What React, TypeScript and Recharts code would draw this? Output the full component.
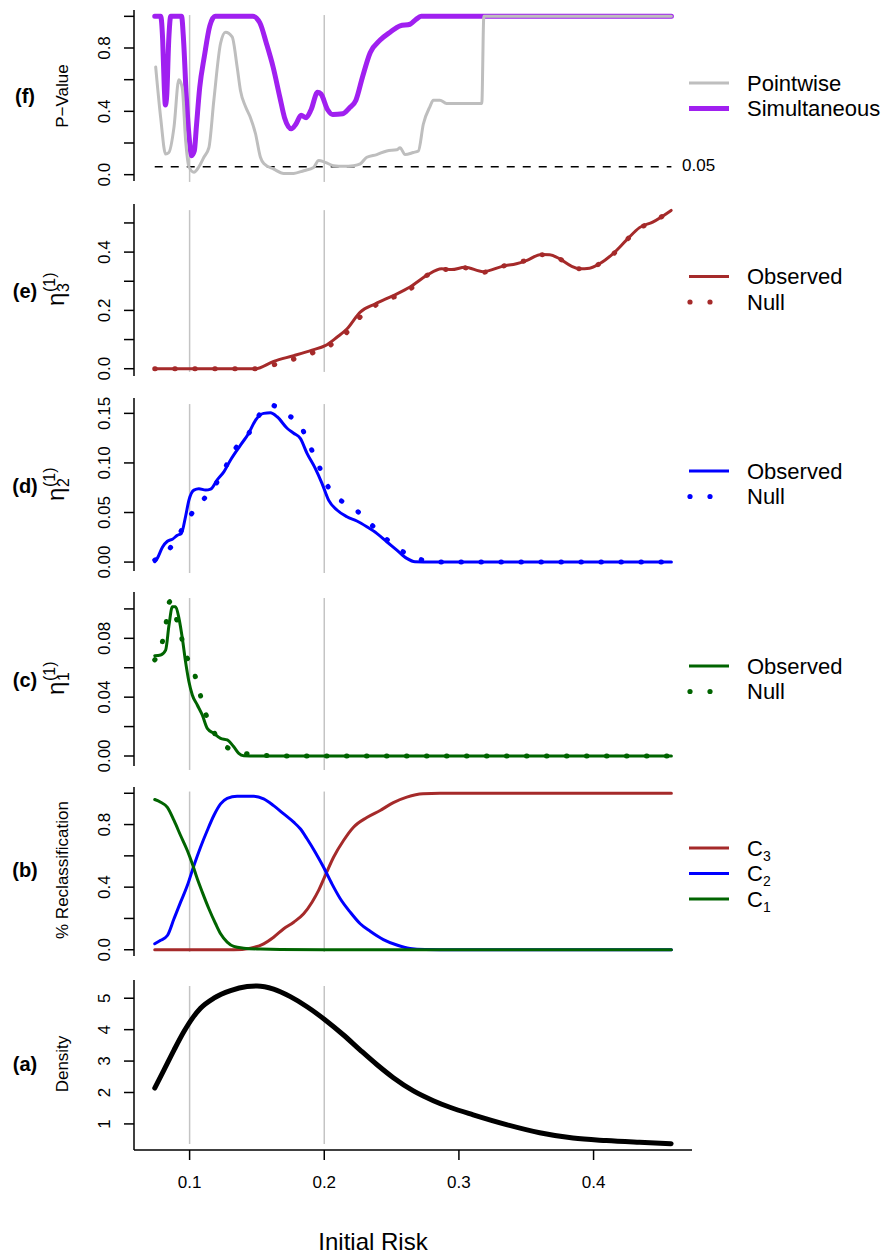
import React from 'react';
import { LineChart, Line, XAxis, YAxis, ReferenceLine } from 'recharts';

type Pt = [number, number];

// ---------- shared axis values ----------
const X_DOMAIN: [number, number] = [0.0587, 0.4731];
const X_TICKS = [0.1, 0.2, 0.3, 0.4];
const X_TICK_LABELS = ['0.1', '0.2', '0.3', '0.4'];
const CUT_POINTS = [0.1, 0.2];
const X_FIRST = 0.0741;
const X_LAST = 0.4578;
const ALPHA = 0.05;

// ---------- (f) p-values ----------
const simultaneous: Pt[] = [
  [0.0741, 1.0], [0.0785, 1.0], [0.08, 0.85], [0.0812, 0.55], [0.082, 0.44], [0.083, 0.5], [0.0845, 0.85],
  [0.086, 1.0], [0.094, 1.0], [0.0955, 0.85], [0.0975, 0.5], [0.0995, 0.25], [0.1015, 0.12], [0.1035, 0.15],
  [0.105, 0.3], [0.1075, 0.55], [0.111, 0.75], [0.115, 0.94], [0.119, 1.0], [0.147, 1.0], [0.1521, 0.96],
  [0.157, 0.83], [0.162, 0.68], [0.167, 0.49], [0.1705, 0.36], [0.1755, 0.29], [0.179, 0.32], [0.1828, 0.375],
  [0.1865, 0.36], [0.1902, 0.41], [0.195, 0.52], [0.1975, 0.51], [0.2025, 0.41], [0.2063, 0.38], [0.2137, 0.385],
  [0.2185, 0.42], [0.2235, 0.47], [0.2285, 0.62], [0.2341, 0.77], [0.2415, 0.85], [0.2489, 0.9], [0.2563, 0.94],
  [0.2637, 0.95], [0.268, 0.98], [0.272, 1.0], [0.4578, 1.0],
];
const pointwise: Pt[] = [
  [0.0748, 0.68], [0.0785, 0.36], [0.0822, 0.13], [0.0846, 0.14], [0.0884, 0.3], [0.092, 0.6], [0.0945, 0.55],
  [0.097, 0.22], [0.0995, 0.05], [0.1032, 0.015], [0.1069, 0.05], [0.1106, 0.11], [0.1143, 0.17], [0.118, 0.47],
  [0.123, 0.83], [0.1267, 0.9], [0.1316, 0.87], [0.1353, 0.68], [0.1378, 0.53], [0.1415, 0.43], [0.1452, 0.36],
  [0.1489, 0.26], [0.1526, 0.11], [0.1551, 0.07], [0.1625, 0.035], [0.1699, 0.008], [0.1773, 0.008],
  [0.1847, 0.025], [0.1921, 0.046], [0.1958, 0.09], [0.2007, 0.078], [0.2069, 0.057], [0.2143, 0.053],
  [0.2217, 0.057], [0.2267, 0.068], [0.2316, 0.11], [0.239, 0.127], [0.2464, 0.15], [0.2538, 0.157],
  [0.2563, 0.17], [0.26, 0.127], [0.2661, 0.14], [0.2699, 0.15], [0.2736, 0.32], [0.2785, 0.43], [0.281, 0.47],
  [0.2859, 0.47], [0.2908, 0.45], [0.317, 0.45], [0.3185, 1.0], [0.4578, 1.0],
];

// ---------- (e) eta3 ----------
const eta3Observed: Pt[] = [
  [0.0741, 0], [0.1489, 0], [0.1624, 0.025], [0.1773, 0.045], [0.1909, 0.064], [0.2007, 0.079], [0.2094, 0.108],
  [0.2168, 0.136], [0.2267, 0.194], [0.2378, 0.222], [0.2513, 0.251], [0.2637, 0.28], [0.2761, 0.32],
  [0.2872, 0.343], [0.2946, 0.34], [0.3044, 0.348], [0.318, 0.333], [0.3328, 0.352], [0.3427, 0.36],
  [0.3501, 0.371], [0.3613, 0.392], [0.3674, 0.391], [0.3748, 0.377], [0.3835, 0.352], [0.3896, 0.343],
  [0.397, 0.345], [0.4044, 0.36], [0.4143, 0.394], [0.4242, 0.44], [0.4341, 0.484], [0.4439, 0.503],
  [0.4576, 0.543],
];
const eta3Null: Pt[] = [
  [0.0741, 0], [0.1489, 0], [0.163, 0.014], [0.1773, 0.033], [0.1909, 0.054], [0.2044, 0.081], [0.2168, 0.125],
  [0.2259, 0.174], [0.2378, 0.217], [0.2513, 0.245], [0.2642, 0.275], [0.2761, 0.32], [0.2872, 0.341],
  [0.2946, 0.34], [0.3044, 0.346], [0.318, 0.331], [0.3328, 0.352], [0.3427, 0.362], [0.3501, 0.372],
  [0.3613, 0.391], [0.3674, 0.39], [0.3748, 0.377], [0.3835, 0.352], [0.3896, 0.343], [0.397, 0.345],
  [0.4044, 0.36], [0.4143, 0.392], [0.4242, 0.44], [0.4341, 0.482], [0.4439, 0.503], [0.4576, 0.543],
];

// ---------- (d) eta2 ----------
const eta2Observed: Pt[] = [
  [0.0741, 0.0003], [0.0761, 0.004], [0.0798, 0.015], [0.0835, 0.021], [0.0872, 0.023], [0.0909, 0.027],
  [0.0939, 0.029], [0.097, 0.046], [0.0995, 0.0625], [0.1032, 0.0726], [0.1069, 0.074], [0.1119, 0.0726],
  [0.1156, 0.0736], [0.1205, 0.083], [0.1254, 0.091], [0.1304, 0.103], [0.1378, 0.118], [0.1439, 0.13],
  [0.1489, 0.143], [0.155, 0.15], [0.16, 0.1506], [0.165, 0.1466], [0.1724, 0.135], [0.1773, 0.13],
  [0.1822, 0.1248], [0.1872, 0.1097], [0.1933, 0.0945], [0.1983, 0.0794], [0.2032, 0.0625], [0.2094, 0.0525],
  [0.2168, 0.0457], [0.2242, 0.0414], [0.2316, 0.0356], [0.239, 0.029], [0.2464, 0.0205], [0.2539, 0.0121],
  [0.2613, 0.0037], [0.2674, 0.0003], [0.28, 0], [0.4578, 0],
];
const eta2Null: Pt[] = [
  [0.0741, 0.002], [0.0859, 0.0148], [0.0933, 0.0306], [0.1013, 0.0484], [0.1106, 0.0636], [0.1193, 0.0784],
  [0.1267, 0.096], [0.1336, 0.1137], [0.1427, 0.127], [0.1501, 0.145], [0.1595, 0.1587], [0.1719, 0.1493],
  [0.183, 0.1359], [0.1891, 0.1177], [0.1953, 0.0996], [0.201, 0.0804], [0.2099, 0.0649], [0.2222, 0.0541],
  [0.2328, 0.0407], [0.2435, 0.0265], [0.2546, 0.0138], [0.2679, 0.0044], [0.2822, 0], [0.4578, 0],
];

// ---------- (c) eta1 ----------
const eta1Observed: Pt[] = [
  [0.0741, 0.0682], [0.0785, 0.0687], [0.0822, 0.072], [0.0847, 0.089], [0.0872, 0.1015], [0.0896, 0.1015],
  [0.0921, 0.0936], [0.0946, 0.08], [0.097, 0.064], [0.0995, 0.0505], [0.102, 0.0415], [0.1057, 0.0347],
  [0.1094, 0.0279], [0.1131, 0.0188], [0.118, 0.0154], [0.123, 0.012], [0.1279, 0.0109], [0.1328, 0.0063],
  [0.1365, 0.0018], [0.1402, 0.0002], [0.15, 0], [0.4578, 0],
];
const eta1Null: Pt[] = [
  [0.0741, 0.0653], [0.0798, 0.0777], [0.0827, 0.0913], [0.0852, 0.1049], [0.088, 0.099], [0.0933, 0.0834],
  [0.0965, 0.0709], [0.1027, 0.0585], [0.1069, 0.0453], [0.1106, 0.0324], [0.1161, 0.0199], [0.1242, 0.0082],
  [0.14, 0.002], [0.1513, 0.0007], [0.17, 0], [0.4578, 0],
];

// ---------- (b) reclassification ----------
const reclassC3: Pt[] = [
  [0.0741, 0], [0.1328, 0], [0.1452, 0.01], [0.155, 0.038], [0.1624, 0.08], [0.1699, 0.134], [0.1773, 0.176],
  [0.1847, 0.23], [0.1909, 0.304], [0.1958, 0.379], [0.2007, 0.474], [0.2069, 0.591], [0.2143, 0.698],
  [0.2217, 0.783], [0.2316, 0.845], [0.2415, 0.89], [0.2513, 0.94], [0.2613, 0.975], [0.2733, 0.997],
  [0.2859, 1.0], [0.4578, 1.0],
];
const reclassC2: Pt[] = [
  [0.0741, 0.038], [0.0785, 0.06], [0.0835, 0.091], [0.0884, 0.198], [0.0933, 0.304], [0.0983, 0.41],
  [0.1032, 0.538], [0.1081, 0.655], [0.1131, 0.762], [0.118, 0.858], [0.123, 0.932], [0.1279, 0.968],
  [0.1353, 0.981], [0.1476, 0.981], [0.155, 0.964], [0.1624, 0.921], [0.1699, 0.868], [0.1773, 0.815],
  [0.1822, 0.773], [0.1872, 0.709], [0.1933, 0.623], [0.1995, 0.527], [0.2057, 0.421], [0.2119, 0.326],
  [0.2193, 0.24], [0.2267, 0.166], [0.2341, 0.118], [0.2439, 0.065], [0.2539, 0.03], [0.2637, 0.008],
  [0.2748, 0.001], [0.2859, 0], [0.4578, 0],
];
const reclassC1: Pt[] = [
  [0.0741, 0.96], [0.0785, 0.943], [0.0835, 0.91], [0.0884, 0.826], [0.0933, 0.73], [0.0983, 0.634],
  [0.102, 0.549], [0.1057, 0.453], [0.1094, 0.368], [0.1143, 0.262], [0.1193, 0.166], [0.123, 0.102],
  [0.1279, 0.049], [0.1328, 0.021], [0.1402, 0.01], [0.1526, 0.004], [0.1674, 0.001], [0.2, 0], [0.4578, 0],
];

// ---------- (a) density ----------
const density: Pt[] = [
  [0.0741, 2.14], [0.081, 2.72], [0.0884, 3.35], [0.0958, 3.94], [0.102, 4.36], [0.1081, 4.68], [0.118, 5.0],
  [0.1304, 5.24], [0.1427, 5.37], [0.1501, 5.39], [0.1624, 5.29], [0.1748, 5.05], [0.1872, 4.73], [0.2007, 4.31],
  [0.2143, 3.83], [0.2267, 3.35], [0.239, 2.89], [0.2513, 2.47], [0.2662, 2.05], [0.281, 1.74], [0.2933, 1.53],
  [0.3106, 1.29], [0.3353, 0.98], [0.36, 0.72], [0.3847, 0.55], [0.4094, 0.47], [0.4341, 0.415], [0.4576, 0.37],
];

// ---------- styling / layout ----------
const FONT = '"Liberation Sans", Arial, Helvetica, sans-serif';
const W = 882;
const H = 1256;
const PLOT_LEFT = 134;
const PLOT_RIGHT = 692;
const BROWN = '#A52A2A';
const BLUE = '#0000FF';
const GREEN = '#006400';
const PURPLE = '#A020F0';
const GRAY = '#BEBEBE';

interface SeriesSpec {
  name: string;
  data: Pt[];
  color: string;
  width: number;
  dotted?: boolean;
  curve: 'linear' | 'monotone';
}
interface LegendSpec {
  label: string;
  sub?: string;
  color: string;
  width: number;
  dotted?: boolean;
}
interface PanelSpec {
  tag: string;
  top: number;
  bottom: number;
  domain: [number, number];
  ticks: number[];
  labels: string[];
  refSpan: [number, number];
  series: SeriesSpec[];
  legend: LegendSpec[];
  legendY: number;
  title: { kind: 'text'; text: string } | { kind: 'eta'; sub: string };
  tagY: number;
  showX?: boolean;
  threshold?: boolean;
}

const panels: PanelSpec[] = [
  {
    tag: '(f)', top: 10, bottom: 181, domain: [-0.04, 1.04],
    ticks: [0, 0.2, 0.4, 0.6, 0.8, 1.0], labels: ['0.0', '', '0.4', '', '0.8', ''],
    refSpan: [-0.046, 1.008],
    series: [
      { name: 'Simultaneous', data: simultaneous, color: PURPLE, width: 5, curve: 'monotone' },
      { name: 'Pointwise', data: pointwise, color: GRAY, width: 3, curve: 'monotone' },
    ],
    legend: [
      { label: 'Pointwise', color: GRAY, width: 3 },
      { label: 'Simultaneous', color: PURPLE, width: 5 },
    ],
    legendY: 83, title: { kind: 'text', text: 'P\u2212Value' }, tagY: 96, threshold: true,
  },
  {
    tag: '(e)', top: 204, bottom: 376, domain: [-0.025, 0.565],
    ticks: [0, 0.1, 0.2, 0.3, 0.4, 0.5], labels: ['0.0', '', '0.2', '', '0.4', ''],
    refSpan: [-0.011, 0.544],
    series: [
      { name: 'Null', data: eta3Null, color: BROWN, width: 5, dotted: true, curve: 'monotone' },
      { name: 'Observed', data: eta3Observed, color: BROWN, width: 3, curve: 'monotone' },
    ],
    legend: [
      { label: 'Observed', color: BROWN, width: 3 },
      { label: 'Null', color: BROWN, width: 5, dotted: true },
    ],
    legendY: 276.5, title: { kind: 'eta', sub: '3' }, tagY: 291,
  },
  {
    tag: '(d)', top: 398, bottom: 571, domain: [-0.009, 0.1655],
    ticks: [0, 0.05, 0.1, 0.15], labels: ['0.00', '0.05', '0.10', '0.15'],
    refSpan: [-0.011, 0.1594],
    series: [
      { name: 'Null', data: eta2Null, color: BLUE, width: 5, dotted: true, curve: 'monotone' },
      { name: 'Observed', data: eta2Observed, color: BLUE, width: 3, curve: 'monotone' },
    ],
    legend: [
      { label: 'Observed', color: BLUE, width: 3 },
      { label: 'Null', color: BLUE, width: 5, dotted: true },
    ],
    legendY: 471, title: { kind: 'eta', sub: '2' }, tagY: 486,
  },
  {
    tag: '(c)', top: 592, bottom: 766, domain: [-0.0068, 0.1115],
    ticks: [0, 0.02, 0.04, 0.06, 0.08, 0.1], labels: ['0.00', '', '0.04', '', '0.08', ''],
    refSpan: [-0.0095, 0.1074],
    series: [
      { name: 'Null', data: eta1Null, color: GREEN, width: 5, dotted: true, curve: 'monotone' },
      { name: 'Observed', data: eta1Observed, color: GREEN, width: 3, curve: 'monotone' },
    ],
    legend: [
      { label: 'Observed', color: GREEN, width: 3 },
      { label: 'Null', color: GREEN, width: 5, dotted: true },
    ],
    legendY: 666, title: { kind: 'eta', sub: '1' }, tagY: 680,
  },
  {
    tag: '(b)', top: 787, bottom: 956, domain: [-0.04, 1.04],
    ticks: [0, 0.2, 0.4, 0.6, 0.8, 1.0], labels: ['0.0', '', '0.4', '', '0.8', ''],
    refSpan: [-0.0144, 1.011],
    series: [
      { name: 'C3', data: reclassC3, color: BROWN, width: 3, curve: 'monotone' },
      { name: 'C2', data: reclassC2, color: BLUE, width: 3, curve: 'monotone' },
      { name: 'C1', data: reclassC1, color: GREEN, width: 3, curve: 'monotone' },
    ],
    legend: [
      { label: 'C', sub: '3', color: BROWN, width: 3 },
      { label: 'C', sub: '2', color: BLUE, width: 3 },
      { label: 'C', sub: '1', color: GREEN, width: 3 },
    ],
    legendY: 848, title: { kind: 'text', text: '% Reclassification' }, tagY: 870,
  },
  {
    tag: '(a)', top: 980, bottom: 1150, domain: [0.17, 5.58],
    ticks: [1, 2, 3, 4, 5], labels: ['1', '2', '3', '4', '5'],
    refSpan: [0.361, 5.389],
    series: [{ name: 'Density', data: density, color: '#000', width: 5, curve: 'monotone' }],
    legend: [],
    legendY: 0, title: { kind: 'text', text: 'Density' }, tagY: 1064, showX: true,
  },
];

const toRows = (pts: Pt[]) => pts.map(([x, y]) => ({ x, y }));

const makeYTick = (p: PanelSpec) => (props: any) => {
  const { y, payload } = props;
  const i = p.ticks.findIndex((t) => Math.abs(t - payload.value) < 1e-9);
  const label = i >= 0 ? p.labels[i] : '';
  if (!label) return <g />;
  return (
    <text x={110} y={y} transform={`rotate(-90 110 ${y})`} textAnchor="middle" fontSize={17}
      fontFamily={FONT} fill="#000">{label}</text>
  );
};

const makeXTick = (baseline: number) => (props: any) => {
  const { x, payload } = props;
  const i = X_TICKS.findIndex((t) => Math.abs(t - payload.value) < 1e-9);
  return (
    <text x={x} y={baseline} textAnchor="middle" fontSize={17} fontFamily={FONT} fill="#000">
      {i >= 0 ? X_TICK_LABELS[i] : ''}
    </text>
  );
};

function Panel({ p }: { p: PanelSpec }) {
  const padTop = 10;
  const plotH = p.bottom - p.top;
  const xAxisH = p.showX ? 66 : 0;
  const padBottom = p.showX ? 0 : 10;
  const height = padTop + plotH + xAxisH + padBottom;
  const axisStyle = { stroke: '#000', strokeWidth: 1.5 };
  return (
    <div style={{ position: 'absolute', left: 0, top: p.top - padTop, width: W, height }}>
      <LineChart width={W} height={height}
        margin={{ top: padTop, right: W - PLOT_RIGHT, bottom: padBottom, left: 0 }}>
        <XAxis type="number" dataKey="x" domain={X_DOMAIN} allowDataOverflow ticks={X_TICKS} interval={0}
          height={xAxisH} tickSize={10} tickLine={p.showX ? axisStyle : false}
          tick={p.showX ? makeXTick(padTop + plotH + 38) : false} axisLine={axisStyle} />
        <YAxis type="number" domain={p.domain} allowDataOverflow ticks={p.ticks} interval={0}
          width={PLOT_LEFT} tickSize={10} tickLine={axisStyle} tick={makeYTick(p)} axisLine={axisStyle} />
        {CUT_POINTS.map((c) => (
          <ReferenceLine key={c} segment={[{ x: c, y: p.refSpan[0] }, { x: c, y: p.refSpan[1] }]}
            stroke="#C4C4C4" strokeWidth={1.5} ifOverflow="visible" />
        ))}
        {p.threshold && (
          <ReferenceLine segment={[{ x: X_FIRST, y: ALPHA }, { x: X_LAST, y: ALPHA }]}
            stroke="#000" strokeWidth={1.5} strokeDasharray="8 8" ifOverflow="visible" />
        )}
        {p.series.map((s) => (
          <Line key={s.name} data={toRows(s.data)} dataKey="y" name={s.name} type={s.curve}
            stroke={s.color} strokeWidth={s.width} dot={false} activeDot={false}
            isAnimationActive={false} strokeLinecap="round" strokeLinejoin="round"
            strokeDasharray={s.dotted ? '0.5 19.5' : undefined} />
        ))}
      </LineChart>
    </div>
  );
}

function EtaLabel({ sub, cy }: { sub: string; cy: number }) {
  const bx = 64;
  const by = cy + 15;
  return (
    <g transform={`translate(${bx} ${by}) rotate(-90)`} fontFamily={FONT} fill="#000">
      <text x={0} y={0} fontSize={24}>η</text>
      <text x={14} y={5} fontSize={16}>{sub}</text>
      <text x={14} y={-9} fontSize={16}>(1)</text>
    </g>
  );
}

function Overlay() {
  return (
    <svg width={W} height={H} style={{ position: 'absolute', left: 0, top: 0, pointerEvents: 'none' }}>
      {panels.map((p) => (
        <g key={p.tag}>
          <text x={25} y={p.tagY} textAnchor="middle" dominantBaseline="central" fontSize={20}
            fontWeight="bold" fontFamily={FONT} fill="#000">{p.tag}</text>
          {p.title.kind === 'text' ? (
            <text x={68} y={p.tagY} transform={`rotate(-90 68 ${p.tagY})`} textAnchor="middle"
              fontSize={17} fontFamily={FONT} fill="#000">{p.title.text}</text>
          ) : (
            <EtaLabel sub={p.title.sub} cy={p.tagY} />
          )}
          {p.legend.map((l, i) => {
            const y = p.legendY + i * 25.5;
            return (
              <g key={l.label + (l.sub || '') + i}>
                {l.dotted ? (
                  <g fill={l.color}>
                    <circle cx={690} cy={y} r={2.6} />
                    <circle cx={710} cy={y} r={2.6} />
                  </g>
                ) : (
                  <line x1={689} x2={729} y1={y} y2={y} stroke={l.color} strokeWidth={l.width} />
                )}
                <text x={747} y={y + 7.8} fontSize={22} fontFamily={FONT} fill="#000">
                  {l.label}
                  {l.sub && <tspan dy={5} fontSize={14}>{l.sub}</tspan>}
                </text>
              </g>
            );
          })}
        </g>
      ))}
      <text x={682} y={171} fontSize={17} fontFamily={FONT} fill="#000">{ALPHA.toFixed(2)}</text>
      <text x={373} y={1250} textAnchor="middle" fontSize={24} fontFamily={FONT} fill="#000">Initial Risk</text>
    </svg>
  );
}

export default function App() {
  return (
    <div style={{ position: 'absolute', left: 0, top: 0, width: W, height: H, background: '#fff' }}>
      {panels.map((p) => (
        <Panel key={p.tag} p={p} />
      ))}
      <Overlay />
    </div>
  );
}
